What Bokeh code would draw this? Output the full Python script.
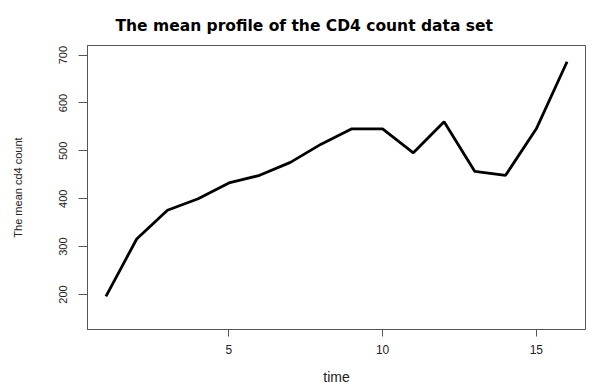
from bokeh.plotting import figure
from bokeh.models import FixedTicker, Range1d
from bokeh.embed import file_html
from bokeh.resources import INLINE

time = [1, 2, 3, 4, 5, 6, 7, 8, 9, 10, 11, 12, 13, 14, 15, 16]
mean_cd4 = [196, 316, 376, 400, 433, 449, 476, 514, 546, 546, 496, 561, 457, 449, 546, 686]
x_ticks = [5, 10, 15]
y_ticks = [200, 300, 400, 500, 600, 700]

p = figure(width=592, height=387, output_backend="svg", toolbar_location=None,
           x_range=Range1d(0.4, 16.6), y_range=Range1d(127, 720),
           min_border_left=87, min_border_right=7, min_border_top=45, min_border_bottom=57)

p.line(time, mean_cd4, line_color="black", line_width=2.8)

p.title.text = "The mean profile of the CD4 count data set"
p.title.text_font = "DejaVu Sans"
p.title.text_font_size = "15.5px"
p.title.text_font_style = "bold"
p.title.align = "left"
p.title.offset = 28
p.title.standoff = 22
p.title.text_color = "black"

p.xgrid.visible = False
p.ygrid.visible = False
p.outline_line_color = "#555555"
p.outline_line_width = 1
p.background_fill_color = "white"
p.border_fill_color = "white"

for ax in (p.xaxis[0], p.yaxis[0]):
    ax.axis_line_color = "#555555"
    ax.major_tick_line_color = "#555555"
    ax.major_tick_in = 0
    ax.minor_tick_line_color = None
    ax.major_label_text_font = "Liberation Sans"
    ax.major_label_text_color = "#222222"
    ax.axis_label_text_font = "Liberation Sans"
    ax.axis_label_text_font_style = "normal"
    ax.axis_label_text_color = "#222222"

p.xaxis[0].ticker = FixedTicker(ticks=x_ticks)
p.yaxis[0].ticker = FixedTicker(ticks=y_ticks)
p.xaxis[0].axis_label = "time"
p.yaxis[0].axis_label = "The mean cd4 count"

p.xaxis[0].major_tick_out = 7
p.xaxis[0].major_label_text_font_size = "12px"
p.xaxis[0].axis_label_text_font_size = "14px"
p.xaxis[0].major_label_standoff = 8
p.xaxis[0].axis_label_standoff = 12

p.yaxis[0].major_tick_out = 9
p.yaxis[0].major_label_text_font_size = "11px"
p.yaxis[0].axis_label_text_font_size = "11px"
p.yaxis[0].major_label_orientation = "vertical"
p.yaxis[0].major_label_standoff = 11
p.yaxis[0].axis_label_standoff = 33

open("out.html", "w").write(file_html(p, INLINE))
